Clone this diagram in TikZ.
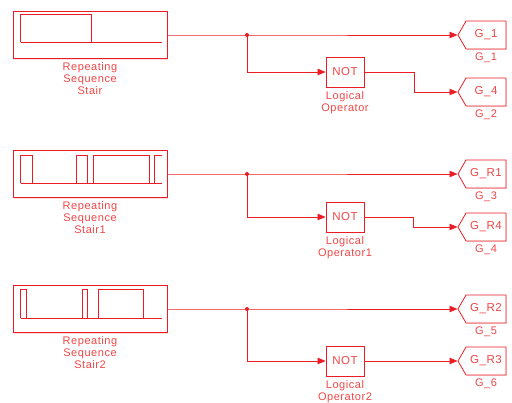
\documentclass[tikz,border=0pt]{standalone}
\usepackage{fontspec}
\setmainfont{Liberation Sans}
\newfontfamily\simfont[LetterSpace=5]{Liberation Sans}
\usetikzlibrary{arrows.meta,shapes.symbols,positioning,shadows}
\definecolor{simred}{RGB}{235,28,36}
\definecolor{simtxt}{RGB}{240,70,70}

\begin{document}
\begin{tikzpicture}[x=1pt,y=-1pt,
    srcbox/.style={draw=simred,line width=0.9pt,fill=white,
                   minimum width=154pt,minimum height=47pt,inner sep=0pt,
                   drop shadow={shadow xshift=1.3pt,shadow yshift=-1.3pt,
                                fill=simred!30}},
    notbox/.style={draw=simred,line width=0.8pt,fill=white,
                   minimum width=38pt,minimum height=30pt,inner sep=0pt,
                   text=simtxt,font=\simfont\fontsize{11.5}{12}\selectfont,
                   drop shadow={shadow xshift=1pt,shadow yshift=-1pt,
                                fill=simred!30}},
    tagbox/.style={draw=simred,line width=0.8pt,fill=white,
                   signal,signal to=west,signal from=nowhere,
                   signal pointer angle=120,
                   minimum width=48pt,minimum height=28pt,inner sep=0pt,
                   text=simtxt,font=\simfont\fontsize{11.5}{12}\selectfont,
                   drop shadow={shadow xshift=1pt,shadow yshift=-1pt,
                                fill=simred!30}},
    lbl/.style={text=simtxt,font=\simfont\fontsize{11}{12.3}\selectfont,
                align=center,inner sep=0pt},
    wire/.style={simred,line width=0.6pt},
    arr/.style={wire,-{Triangle[length=8pt,width=6.5pt]}},
    wave/.style={simred,line width=0.7pt},
  ]
  \useasboundingbox (0,0) rectangle (512,403);

  % row 1
  \node[srcbox] (src1) at (90,35) {};
  \begin{scope}[shift={(src1.north west)}]
    \draw[wave] (8,31) -- (8,3) -- (79,3) -- (79,31);
    \draw[wave] (8,31) -- (149,31);
  \end{scope}
  \node[lbl,below=3pt of src1] (src1l) {Repeating\\Sequence\\Stair};
  \node[notbox] (not1) at (345,72) {NOT};
  \node[lbl,below=4pt of not1] (not1l) {Logical\\Operator};
  \node[tagbox] (tagA1) at (486,35) {G\_1};
  \node[tagbox] (tagB1) at (486,92) {G\_4};
  \node[lbl,below=3pt of tagA1] (tagA1l) {G\_1};
  \node[lbl,below=3pt of tagB1] (tagB1l) {G\_2};
  \coordinate (j1) at (247,35);
  \coordinate (b1) at (414,72);
  \draw[arr] (src1.east) -- (j1) -- (tagA1.west);
  \draw[arr] (j1) |- (not1.west);
  \draw[arr] (not1.east) -- (b1) |- (tagB1.west);
  \fill[simred] (j1) circle (2pt);

  % row 2
  \node[srcbox] (src2) at (90,174) {};
  \begin{scope}[shift={(src2.north west)}]
    \draw[wave] (8,33) -- (8,5) -- (20,5) -- (20,33) -- (64,33) -- (64,5)
      -- (75,5) -- (75,33) -- (81,33) -- (81,5) -- (137,5) -- (137,33)
      -- (142,33) -- (142,5) -- (149,5);
    \draw[wave] (8,33) -- (149,33);
  \end{scope}
  \node[lbl,below=3pt of src2] (src2l) {Repeating\\Sequence\\Stair1};
  \node[notbox] (not2) at (345,217) {NOT};
  \node[lbl,below=4pt of not2] (not2l) {Logical\\Operator1};
  \node[tagbox] (tagA2) at (486,174) {G\_R1};
  \node[tagbox] (tagB2) at (486,227) {G\_R4};
  \node[lbl,below=3pt of tagA2] (tagA2l) {G\_3};
  \node[lbl,below=3pt of tagB2] (tagB2l) {G\_4};
  \coordinate (j2) at (247,174);
  \coordinate (b2) at (413,217);
  \draw[arr] (src2.east) -- (j2) -- (tagA2.west);
  \draw[arr] (j2) |- (not2.west);
  \draw[arr] (not2.east) -- (b2) |- (tagB2.west);
  \fill[simred] (j2) circle (2pt);

  % row 3
  \node[srcbox] (src3) at (90,309) {};
  \begin{scope}[shift={(src3.north west)}]
    \draw[wave] (8,33) -- (8,4) -- (14,4) -- (14,33) -- (70,33) -- (70,4)
      -- (75,4) -- (75,33) -- (86,33) -- (86,4) -- (131,4) -- (131,33);
    \draw[wave] (8,33) -- (149,33);
  \end{scope}
  \node[lbl,below=3pt of src3] (src3l) {Repeating\\Sequence\\Stair2};
  \node[notbox] (not3) at (345,361) {NOT};
  \node[lbl,below=4pt of not3] (not3l) {Logical\\Operator2};
  \node[tagbox] (tagA3) at (486,309) {G\_R2};
  \node[tagbox] (tagB3) at (486,361) {G\_R3};
  \node[lbl,below=3pt of tagA3] (tagA3l) {G\_5};
  \node[lbl,below=3pt of tagB3] (tagB3l) {G\_6};
  \coordinate (j3) at (247,309);
  \draw[arr] (src3.east) -- (j3) -- (tagA3.west);
  \draw[arr] (j3) |- (not3.west);
  \draw[arr] (not3.east) -- (tagB3.west);
  \fill[simred] (j3) circle (2pt);
\end{tikzpicture}
\end{document}
